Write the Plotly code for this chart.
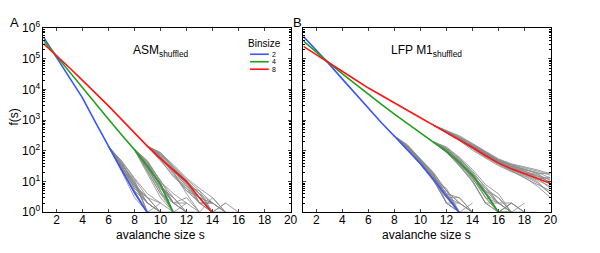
import plotly.graph_objects as go

# ---------------- data ----------------
sizes = list(range(1, 21))

# mean distributions f(s), panel A (ASM shuffled), s = 1, 2, ...
asm_bin2 = [513000, 115000, 26300, 5370, 851, 138, 24, 4.4, 0.93]
asm_bin4 = [407000, 123000, 37200, 11200, 3470, 1070, 339, 110, 31.6, 7.9, 0.89]
asm_bin8 = [316000, 132000, 51300, 20000, 7940, 2950, 1070, 389, 141, 56, 23.4, 10, 2.9, 0.95]

# mean distributions f(s), panel B (LFP M1 shuffled), s = 1, 2, ...
lfp_bin2 = [537000, 191000, 66100, 21900, 7240, 2400, 832, 302, 110, 38, 12, 3.5, 0.95]
lfp_bin4 = [380000, 162000, 72400, 32400, 14800, 6920, 3310, 1580, 776, 389, 195, 95, 42, 16, 4.2, 1, 1]
lfp_bin8 = [257000, 135000, 74100, 39800, 20900, 11200, 6310, 3630, 2090, 1200, 692, 398, 229, 129,
            71, 40, 26, 18.6, 12.6, 8.7]

# individual shuffled realisations (grey), tails only; first size given separately
asm_gray2_start = 6
asm_gray2 = [
    [138, 30, 8, 2, 1], [136, 25, 5, 1], [140, 45, 12, 3, 1], [135, 28, 4, 1, 2],
    [139, 38, 10, 2], [137, 34, 6, 2, 1], [141, 42, 9, 1, 1], [138, 26, 7, 3, 1, 1],
    [136, 48, 13, 4, 2], [139, 32, 5, 2, 1], [140, 36, 11, 1], [137, 40, 8, 3, 2, 1],
    [138, 22, 3, 1], [140, 44, 7, 2, 1], [137, 29, 9, 1, 1, 1], [139, 35, 6, 3],
]
asm_gray4_start = 8
asm_gray4 = [
    [110, 32, 8, 2, 1], [108, 25, 5, 1], [112, 45, 10, 3, 1, 1], [109, 20, 4, 2, 1],
    [111, 38, 9, 1, 2], [110, 28, 6, 3], [113, 42, 7, 2, 1, 1], [107, 18, 3, 1],
    [112, 48, 10, 4, 2], [109, 30, 5, 1, 1], [111, 35, 8, 2, 3, 1], [110, 26, 6, 2],
    [108, 22, 4, 1, 1], [112, 40, 11, 2, 2, 1], [110, 34, 7, 3, 1], [109, 27, 9, 1],
]
asm_gray8_start = 9
asm_gray8 = [
    [141, 60, 22, 7, 3, 1], [143, 75, 30, 11, 4, 2, 1], [139, 48, 16, 5, 2, 1, 1],
    [144, 85, 35, 13, 6, 3, 1], [140, 52, 14, 6, 2, 2], [142, 70, 25, 9, 3, 1, 2, 1],
    [141, 58, 20, 4, 1, 3, 1], [143, 80, 32, 12, 5, 2], [140, 55, 24, 8, 2, 1],
    [142, 65, 18, 5, 3, 2, 1, 1], [139, 90, 28, 10, 4, 1], [141, 62, 26, 11, 2, 2, 1],
    [142, 68, 21, 9, 4, 1, 1], [140, 50, 19, 6, 3, 2], [143, 78, 27, 10, 2, 1, 2],
    [141, 57, 23, 7, 5, 1],
]
lfp_gray2_start = 8
lfp_gray2 = [
    [302, 120, 45, 14, 4, 1], [304, 150, 55, 20, 5, 2, 1], [300, 105, 38, 11, 2, 1],
    [303, 135, 50, 17, 4, 3, 1], [301, 115, 40, 12, 3], [305, 160, 54, 19, 5, 2, 1],
    [299, 110, 36, 10, 3, 1, 2], [302, 140, 48, 15, 4, 1], [306, 125, 52, 18, 2, 2],
    [300, 118, 42, 13, 2, 1, 1], [303, 145, 46, 16, 5, 1], [301, 130, 44, 14, 3, 3, 1],
    [302, 128, 39, 12, 6, 1], [304, 142, 51, 17, 3, 2, 1], [300, 112, 43, 15, 4, 1, 1],
    [303, 138, 47, 11, 2, 1],
]
lfp_gray4_start = 11
lfp_gray4 = [
    [195, 100, 45, 16, 4, 2, 1], [197, 120, 55, 22, 6, 3, 1, 1], [193, 92, 35, 11, 2, 1],
    [196, 110, 50, 18, 5, 2, 2, 1, 1], [194, 98, 40, 13, 3, 1, 2], [198, 135, 62, 25, 8, 4, 1],
    [194, 95, 33, 10, 2, 2, 1], [196, 115, 48, 17, 3, 1, 1, 2], [195, 105, 44, 15, 5, 3, 1],
    [192, 90, 32, 10, 2, 1], [197, 125, 58, 20, 4, 1, 2, 1], [195, 108, 42, 14, 6, 2, 1],
    [196, 112, 38, 12, 4, 1, 1], [194, 102, 52, 19, 7, 2, 1, 1], [197, 118, 46, 13, 3, 2],
    [195, 96, 36, 16, 5, 1, 2, 1],
]
lfp_gray8_start = 11
lfp_gray8 = [
    [692, 410, 240, 140, 78, 45, 28, 20, 14, 10], [690, 400, 230, 125, 70, 40, 24, 17, 11, 7],
    [695, 450, 290, 170, 95, 52, 36, 28, 22, 16], [691, 395, 225, 120, 65, 36, 22, 15, 9, 4],
    [694, 430, 260, 150, 85, 50, 32, 25, 18, 19], [689, 385, 218, 105, 58, 33, 21, 14, 7, 3],
    [693, 420, 250, 145, 80, 46, 30, 22, 15, 12], [692, 405, 235, 130, 72, 42, 27, 19, 16, 9],
    [696, 470, 310, 175, 98, 55, 38, 31, 24, 18], [690, 398, 228, 118, 62, 38, 23, 13, 8, 5],
    [694, 440, 270, 155, 88, 48, 34, 24, 20, 13], [691, 415, 245, 138, 75, 44, 29, 21, 17, 11],
    [693, 425, 255, 148, 82, 47, 31, 23, 13, 6], [692, 412, 238, 135, 76, 43, 26, 18, 12, 14],
    [695, 445, 280, 160, 90, 51, 35, 26, 19, 8], [691, 402, 232, 128, 68, 41, 25, 16, 10, 4],
]

binsizes = ["2", "4", "8"]
x_ticks = [2, 4, 6, 8, 10, 12, 14, 16, 18, 20]
y_ticks = [1, 10, 100, 1000, 10000, 100000, 1000000]
y_ticktext = ["10<sup>%d</sup>" % i for i in range(7)]

# ---------------- styling ----------------
W, H = 600, 253
FONT = "Liberation Sans, Arial, sans-serif"
COLORS = ["rgb(55,85,255)", "rgb(30,160,30)", "rgb(255,20,20)"]
GRAY = "rgb(135,135,135)"

fig = go.Figure()

panels = [
    ("x", "y", [asm_bin2, asm_bin4, asm_bin8],
     [(asm_gray2_start, asm_gray2), (asm_gray4_start, asm_gray4), (asm_gray8_start, asm_gray8)]),
    ("x2", "y2", [lfp_bin2, lfp_bin4, lfp_bin8],
     [(lfp_gray2_start, lfp_gray2), (lfp_gray4_start, lfp_gray4), (lfp_gray8_start, lfp_gray8)]),
]

for xa, ya, means, grays in panels:
    for start, curves in grays:
        for c in curves:
            fig.add_trace(go.Scatter(
                x=sizes[start - 1:start - 1 + len(c)], y=c, mode="lines",
                line=dict(color=GRAY, width=0.8), xaxis=xa, yaxis=ya,
                showlegend=False, hoverinfo="skip"))
    for vals, col in zip(means, COLORS):
        fig.add_trace(go.Scatter(
            x=sizes[:len(vals)], y=vals, mode="lines",
            line=dict(color=col, width=1.6), xaxis=xa, yaxis=ya,
            showlegend=False))

def px_x(p):
    return p / W

def px_y(p):
    return 1 - p / H

y_dom = [px_y(217), px_y(20.5)]
minor_vals = [m * 10 ** d for d in range(6) for m in range(2, 10)]

common_x = dict(range=[1, 20], tickvals=x_ticks, ticks="inside", ticklen=3,
                showline=True, linecolor="black", linewidth=1, mirror="ticks",
                showgrid=False, zeroline=False, ticklabelstandoff=-4,
                tickfont=dict(family=FONT, size=12, color="black"))
common_y = dict(type="log", range=[0, 6], tickvals=y_ticks, ticktext=y_ticktext,
                ticks="inside", ticklen=3, showline=True, linecolor="black", linewidth=1,
                mirror="ticks", showgrid=False, zeroline=False,
                minor=dict(tickmode="array", tickvals=minor_vals, ticks="inside", ticklen=1.5,
                           tickcolor="black", showgrid=False),
                tickfont=dict(family=FONT, size=12, color="black"))

fig.update_layout(
    width=W, height=H,
    margin=dict(l=0, r=0, t=0, b=0),
    paper_bgcolor="white", plot_bgcolor="white",
    showlegend=False,
    xaxis=dict(domain=[px_x(44), px_x(294)], anchor="y", **common_x),
    yaxis=dict(domain=y_dom, anchor="x", **common_y),
    xaxis2=dict(domain=[px_x(307), px_x(557)], anchor="y2", **common_x),
    yaxis2=dict(domain=y_dom, anchor="x2", showticklabels=False, **common_y),
    font=dict(family=FONT, color="black"),
)

ann = []
ann.append(dict(text="A", x=px_x(15), y=px_y(14), font=dict(size=13)))
ann.append(dict(text="B", x=px_x(301), y=px_y(14), font=dict(size=13)))
ann.append(dict(text="ASM<sub>shuffled</sub>", x=px_x(163), y=px_y(45), font=dict(size=12)))
ann.append(dict(text="LFP M1<sub>shuffled</sub>", x=px_x(432), y=px_y(45), font=dict(size=12)))
ann.append(dict(text="avalanche size s", x=px_x(162), y=px_y(241), font=dict(size=12)))
ann.append(dict(text="avalanche size s", x=px_x(432), y=px_y(241), font=dict(size=12)))
ann.append(dict(text="f(s)", x=px_x(14), y=px_y(115), textangle=-90, font=dict(size=12)))
ann.append(dict(text="Binsize", x=px_x(268), y=px_y(37), font=dict(size=10)))

shapes = []
for i, (lab, col) in enumerate(zip(binsizes, COLORS)):
    yy = px_y(48.3 + 8 * i)
    shapes.append(dict(type="line", xref="paper", yref="paper", x0=px_x(253), x1=px_x(272),
                       y0=yy, y1=yy, line=dict(color=col, width=1.6)))
    ann.append(dict(text=lab, x=px_x(273), y=yy, xanchor="left", font=dict(size=7)))

for a in ann:
    a.setdefault("xanchor", "center")
    a.update(xref="paper", yref="paper", showarrow=False, yanchor="middle")
    a["font"].update(family=FONT, color="black")

fig.update_layout(annotations=ann, shapes=shapes)

# page body has a default 8px margin; remove it so the figure fills the window
fig.write_html("out.html", post_script="document.body.style.margin='0';",
               config={"displayModeBar": False})
